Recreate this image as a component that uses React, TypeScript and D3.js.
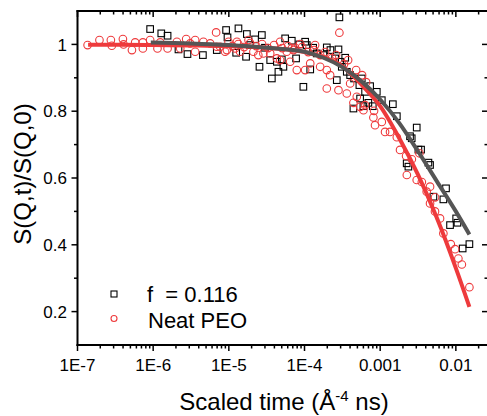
import React from "react";
import * as d3 from "d3";

// ---- data ----
const neatTime = [
  1.36e-7, 1.95e-7, 2.76e-7, 2.84e-7, 3.98e-7, 4.06e-7, 5.24e-7, 5.78e-7, 7.31e-7, 7.31e-7,
  9.12e-7, 1.14e-6, 1.24e-6, 1.55e-6, 2.06e-6, 2.28e-6, 2.73e-6, 3.08e-6, 3.59e-6, 3.59e-6,
  4.61e-6, 5.66e-6, 6.79e-6, 6.93e-6, 7.67e-6, 8.93e-6, 9.42e-6, 9.89e-6, 1.11e-5, 1.21e-5,
  1.28e-5, 1.33e-5, 1.41e-5, 1.59e-5, 1.82e-5, 1.91e-5, 2.11e-5, 2.3e-5, 2.45e-5, 2.75e-5,
  2.86e-5, 3.3e-5, 3.52e-5, 3.96e-5, 4.31e-5, 4.76e-5, 4.76e-5, 5.06e-5, 5.83e-5, 6.07e-5,
  6.46e-5, 6.79e-5, 7.14e-5, 7.52e-5, 7.91e-5, 8.75e-5, 9.29e-5, 1.02e-4, 1.12e-4, 1.19e-4,
  1.34e-4, 1.38e-4, 1.61e-4, 1.61e-4, 1.87e-4, 1.97e-4, 1.97e-4, 2.18e-4, 2.31e-4, 2.61e-4,
  2.81e-4, 2.89e-4, 3.33e-4, 3.62e-4, 3.77e-4, 4.01e-4, 4.43e-4, 4.81e-4, 4.91e-4, 5.43e-4,
  5.77e-4, 6.01e-4, 6.32e-4, 6.52e-4, 8.13e-4, 8.3e-4, 8.55e-4, 1.05e-3, 1.16e-3, 1.35e-3,
  1.66e-3, 1.83e-3, 2.2e-3, 2.25e-3, 2.62e-3, 3.04e-3, 3.3e-3, 3.55e-3, 4.12e-3, 4.56e-3,
  4.56e-3, 5.3e-3, 5.31e-3, 6.18e-3, 6.84e-3, 8.57e-3, 9.77e-3, 1.08e-2, 1.2e-2, 1.51e-2,
];
const neatS = [
  0.998, 1.013, 1.013, 0.996, 1.016, 1.0, 0.983, 1.006, 1.006, 0.988,
  1.013, 0.988, 1.006, 0.988, 1.008, 0.988, 1.016, 1.003, 0.978, 1.013,
  1.008, 1.003, 1.036, 0.993, 0.993, 0.978, 0.983, 1.008, 0.995, 0.988,
  1.008, 1.001, 0.978, 0.992, 1.013, 1.004, 0.978, 0.995, 0.968, 1.001,
  0.973, 0.989, 0.973, 0.998, 0.958, 0.953, 1.008, 0.989, 0.978, 0.995,
  0.948, 0.988, 0.983, 0.99, 0.923, 1.001, 0.992, 0.923, 0.977, 0.943,
  0.983, 0.998, 0.933, 0.968, 0.977, 0.923, 0.868, 0.908, 0.959, 0.968,
  0.863, 1.035, 0.941, 0.853, 0.953, 0.883, 0.825, 0.923, 0.843, 0.813,
  0.908, 0.803, 0.818, 0.887, 0.781, 0.801, 0.758, 0.768, 0.738, 0.738,
  0.722, 0.684, 0.666, 0.609, 0.656, 0.594, 0.674, 0.588, 0.559, 0.574,
  0.524, 0.5, 0.542, 0.479, 0.434, 0.402, 0.387, 0.359, 0.341, 0.273,
];

const f116Time = [
  9.12e-7, 1.28e-6, 1.55e-6, 2.16e-6, 2.84e-6, 4.54e-6, 6.93e-6, 9.2e-6, 9.6e-6, 1.25e-5,
  1.34e-5, 1.69e-5, 1.73e-5, 1.91e-5, 2.22e-5, 2.54e-5, 2.73e-5, 3.0e-5, 3.52e-5, 3.7e-5,
  4.31e-5, 4.52e-5, 5.01e-5, 5.26e-5, 5.55e-5, 6.79e-5, 7.74e-5, 8.57e-5, 9.66e-5, 1.02e-4,
  1.07e-4, 1.19e-4, 1.3e-4, 1.45e-4, 1.78e-4, 1.97e-4, 2.2e-4, 2.54e-4, 2.67e-4, 2.81e-4,
  2.89e-4, 2.95e-4, 3.11e-4, 3.45e-4, 3.62e-4, 4.01e-4, 4.43e-4, 4.52e-4, 5.31e-4, 5.43e-4,
  5.71e-4, 6.0e-4, 6.32e-4, 6.98e-4, 7.36e-4, 7.98e-4, 9.02e-4, 1.05e-3, 1.47e-3, 1.66e-3,
  2.24e-3, 2.36e-3, 2.48e-3, 2.61e-3, 3.04e-3, 3.2e-3, 3.47e-3, 4.34e-3, 4.56e-3, 5.05e-3,
  6.84e-3, 7.41e-3, 8.38e-3, 1.01e-2, 1.05e-2, 1.23e-2, 1.51e-2,
];
const f116S = [
  1.046, 1.033, 1.026, 0.985, 0.971, 0.968, 0.983, 1.043, 1.021, 0.975,
  1.048, 0.963, 1.031, 0.998, 1.015, 0.933, 1.028, 0.99, 0.953, 0.898,
  0.948, 0.918, 0.955, 0.933, 1.018, 1.011, 0.958, 1.0, 0.873, 1.008,
  0.998, 0.925, 0.99, 0.973, 0.968, 0.991, 0.983, 0.958, 0.893, 0.985,
  1.081, 0.948, 0.933, 0.96, 0.918, 0.908, 0.808, 0.898, 0.878, 0.838,
  0.898, 0.815, 0.858, 0.825, 0.875, 0.815, 0.858, 0.833, 0.821, 0.785,
  0.644, 0.634, 0.725, 0.719, 0.751, 0.685, 0.685, 0.646, 0.639, 0.544,
  0.536, 0.569, 0.459, 0.479, 0.466, 0.389, 0.402,
];

const neatFitTime = [1.38e-7, 3.16e-7, 1e-6, 3.16e-6, 1e-5, 3.16e-5, 1e-4, 1.78e-4, 3.16e-4, 5.62e-4, 1e-3, 1.78e-3, 3.16e-3, 5.62e-3, 1e-2, 1.51e-2];
const neatFitS = [0.999, 0.999, 0.998, 0.997, 0.995, 0.99, 0.977, 0.962, 0.935, 0.88, 0.815, 0.72, 0.61, 0.48, 0.33, 0.214];

const f116FitTime = [9.3e-7, 3.16e-6, 1e-5, 3.16e-5, 1e-4, 1.78e-4, 3.16e-4, 5.62e-4, 1e-3, 1.78e-3, 3.16e-3, 5.62e-3, 1e-2, 1.51e-2];
const f116FitS = [1.006, 1.003, 0.998, 0.99, 0.978, 0.96, 0.932, 0.89, 0.835, 0.765, 0.68, 0.59, 0.5, 0.431];

const xMajorTicks = [1e-7, 1e-6, 1e-5, 1e-4, 1e-3, 1e-2];
const xTickLabels = ["1E-7", "1E-6", "1E-5", "1E-4", "0.001", "0.01"];
const yMajorTicks = [0.2, 0.4, 0.6, 0.8, 1.0];
const yTickLabels = ["0.2", "0.4", "0.6", "0.8", "1"];
const yMinorTicks = [0.3, 0.5, 0.7, 0.9];
const legendLabels = ["f  = 0.116", "Neat PEO"];

const RED = "#ee3a3c";
const GRAY = "#555555";
const FONT = "'Liberation Sans', Arial, Helvetica, sans-serif";

export default function App() {
  const W = 487, H = 416;
  const left = 77.5, right = 488, top = 11, bottom = 345;
  const x = d3.scaleLog().domain([1e-7, 0.0266]).range([left, right]);
  const y = d3.scaleLinear().domain([0.1, 1.1]).range([bottom, top]);

  const xMinor: number[] = [];
  xMajorTicks.forEach((d) => {
    for (let k = 2; k <= 9; k++) {
      const v = d * k;
      if (v < 0.0266) xMinor.push(v);
    }
  });

  const line = d3
    .line<[number, number]>()
    .x((d) => x(d[0]))
    .y((d) => y(d[1]))
    .curve(d3.curveMonotoneX);

  const neatFit = neatFitTime.map((t, i) => [t, neatFitS[i]] as [number, number]);
  const f116Fit = f116FitTime.map((t, i) => [t, f116FitS[i]] as [number, number]);

  const sq = 6.6;
  const tickW = 1.5;

  return (
    <svg width={W} height={H} style={{ display: "block", position: "absolute", left: 0, top: 0 }} fontFamily={FONT}>
      <rect x={0} y={0} width={W} height={H} fill="#fff" />
      {/* data: squares */}
      <g fill="none" stroke="#000" strokeWidth={1.1}>
        {f116Time.map((t, i) => (
          <rect key={i} x={x(t) - sq / 2} y={y(f116S[i]) - sq / 2} width={sq} height={sq} />
        ))}
      </g>
      {/* data: circles */}
      <g fill="none" stroke={RED} strokeWidth={1.1}>
        {neatTime.map((t, i) => (
          <circle key={i} cx={x(t)} cy={y(neatS[i])} r={3.8} />
        ))}
      </g>
      {/* fit lines */}
      <path d={line(neatFit) || ""} fill="none" stroke={RED} strokeWidth={4} strokeLinecap="butt" />
      <path d={line(f116Fit) || ""} fill="none" stroke={GRAY} strokeWidth={4} strokeLinecap="butt" />

      {/* axes frame */}
      <g stroke="#000" strokeWidth={2} fill="none">
        <line x1={left} x2={left} y1={top - 1} y2={bottom + 1} />
        <line x1={left - 1} x2={right} y1={bottom} y2={bottom} />
        <line x1={left - 1} x2={right} y1={top} y2={top} />
      </g>
      {/* ticks */}
      <g stroke="#000" strokeWidth={tickW}>
        {xMajorTicks.map((t, i) => (
          <g key={i}>
            <line x1={x(t)} x2={x(t)} y1={bottom} y2={bottom + 6} />
            <line x1={x(t)} x2={x(t)} y1={top} y2={top + 6} />
          </g>
        ))}
        {xMinor.map((t, i) => (
          <g key={i}>
            <line x1={x(t)} x2={x(t)} y1={bottom} y2={bottom + 3.5} />
            <line x1={x(t)} x2={x(t)} y1={top} y2={top + 3.5} />
          </g>
        ))}
        {yMajorTicks.map((v, i) => (
          <g key={i}>
            <line x1={left - 6} x2={left} y1={y(v)} y2={y(v)} />
            <line x1={right - 6} x2={right} y1={y(v)} y2={y(v)} />
          </g>
        ))}
        {yMinorTicks.map((v, i) => (
          <g key={i}>
            <line x1={left - 3.5} x2={left} y1={y(v)} y2={y(v)} />
            <line x1={right - 3.5} x2={right} y1={y(v)} y2={y(v)} />
          </g>
        ))}
      </g>
      {/* tick labels */}
      <g fontSize={17} fill="#000">
        {xMajorTicks.map((t, i) => (
          <text key={i} x={x(t)} y={371} textAnchor="middle">
            {xTickLabels[i]}
          </text>
        ))}
        {yMajorTicks.map((v, i) => (
          <text key={i} x={67} y={y(v)} dy="0.36em" textAnchor="end">
            {yTickLabels[i]}
          </text>
        ))}
      </g>
      {/* axis titles */}
      <text x={284} y={410} textAnchor="middle" fontSize={24} fill="#000">
        Scaled time (Å
        <tspan dy={-9} fontSize={15}>-4</tspan>
        <tspan dy={9}> ns)</tspan>
      </text>
      <text transform="translate(31,174) rotate(-90)" textAnchor="middle" fontSize={24} fill="#000">
        S(Q,t)/S(Q,0)
      </text>
      {/* legend */}
      <rect x={114 - 3} y={294 - 3} width={6} height={6} fill="none" stroke="#000" strokeWidth={1.1} />
      <circle cx={114} cy={318.5} r={3} fill="none" stroke={RED} strokeWidth={1.1} />
      <text x={147} y={302} fontSize={22} fill="#000" style={{ whiteSpace: "pre" }}>
        {legendLabels[0]}
      </text>
      <text x={148} y={327.5} fontSize={22} fill="#000">
        {legendLabels[1]}
      </text>
    </svg>
  );
}
